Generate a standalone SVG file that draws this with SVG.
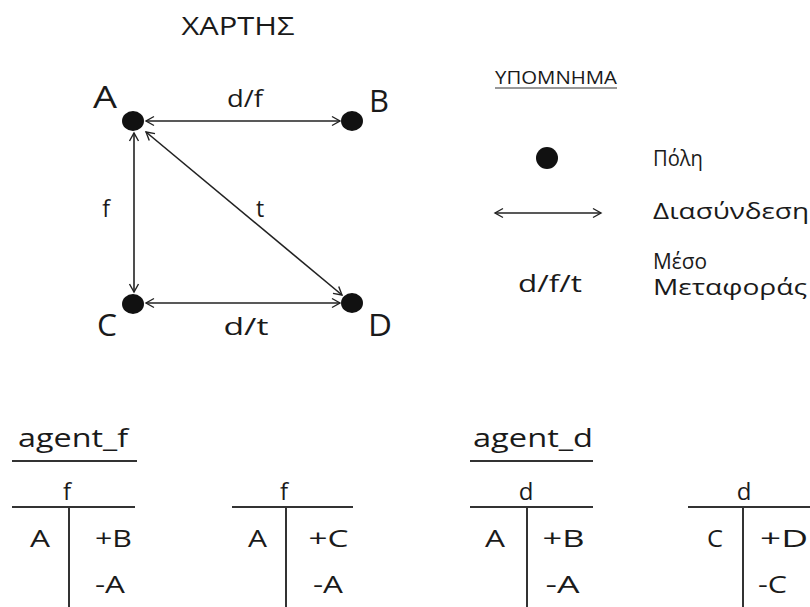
<svg xmlns="http://www.w3.org/2000/svg" width="810" height="607" viewBox="0 0 810 607">
<style>
  text { font-family: "Open Sans", "Noto Sans", "DejaVu Sans", sans-serif; fill: #1a1a1a; }
  .lbl { font-size: 31px; text-anchor: middle; }
  .edge { font-size: 23px; text-anchor: middle; }
  .leg { font-size: 21px; }
  .tt { font-size: 25px; text-anchor: middle; }
  .cell { font-size: 24px; text-anchor: middle; }
  .ln { stroke: #222; stroke-width: 1.6; fill: none; }
  .rule { stroke: #333; stroke-width: 2; fill: none; }
  .dot { fill: #111; }
</style>
<defs>
  <marker id="arr" viewBox="-10 -6 12 12" refX="0" refY="0" markerWidth="12" markerHeight="12" markerUnits="userSpaceOnUse" orient="auto-start-reverse">
    <path d="M-8,-4.5 L0,0 L-8,4.5" fill="none" stroke="#222" stroke-width="1.4"/>
  </marker>
</defs>
<rect width="810" height="607" fill="#ffffff"/>

<text id="title" x="238" y="35" font-size="25" text-anchor="middle" textLength="113" lengthAdjust="spacingAndGlyphs">ΧΑΡΤΗΣ</text>

<g id="connectors">
  <line class="ln" x1="146" y1="121" x2="340" y2="121" marker-start="url(#arr)" marker-end="url(#arr)"/>
  <line class="ln" x1="134" y1="133" x2="134" y2="292" marker-start="url(#arr)" marker-end="url(#arr)"/>
  <line class="ln" x1="146" y1="303" x2="340" y2="303" marker-start="url(#arr)" marker-end="url(#arr)"/>
  <line class="ln" x1="146" y1="132" x2="342" y2="295" marker-start="url(#arr)" marker-end="url(#arr)"/>
  <text class="edge" x="245" y="107" textLength="36" lengthAdjust="spacingAndGlyphs">d/f</text>
  <text class="edge" x="106" y="217">f</text>
  <text class="edge" x="260" y="217">t</text>
  <text class="edge" x="246" y="335" textLength="45" lengthAdjust="spacingAndGlyphs">d/t</text>
</g>

<g id="node-A">
  <ellipse class="dot" cx="133" cy="121" rx="11" ry="10"/>
  <text class="lbl" x="105" y="108" textLength="24" lengthAdjust="spacingAndGlyphs">A</text>
</g>
<g id="node-B">
  <ellipse class="dot" cx="352" cy="121" rx="11" ry="10"/>
  <text class="lbl" x="379" y="112" textLength="20" lengthAdjust="spacingAndGlyphs">B</text>
</g>
<g id="node-C">
  <ellipse class="dot" cx="133" cy="304" rx="11" ry="10"/>
  <text class="lbl" x="107" y="336" textLength="20" lengthAdjust="spacingAndGlyphs">C</text>
</g>
<g id="node-D">
  <ellipse class="dot" cx="352" cy="303" rx="11" ry="10"/>
  <text class="lbl" x="380" y="336" textLength="24" lengthAdjust="spacingAndGlyphs">D</text>
</g>

<g id="legend">
  <text x="495" y="84" font-size="18" textLength="122" lengthAdjust="spacingAndGlyphs">ΥΠΟΜΝΗΜΑ</text>
  <line x1="495" y1="88" x2="617" y2="88" stroke="#333" stroke-width="1.2"/>
  <circle class="dot" cx="547" cy="158" r="11"/>
  <text x="653" y="166" font-size="22" textLength="50" lengthAdjust="spacingAndGlyphs">Πόλη</text>
  <line class="ln" x1="495" y1="213" x2="601" y2="213" marker-start="url(#arr)" marker-end="url(#arr)"/>
  <text class="leg" x="653" y="219" textLength="156" lengthAdjust="spacingAndGlyphs">Διασύνδεση</text>
  <text x="550" y="292" font-size="23" text-anchor="middle" textLength="64" lengthAdjust="spacingAndGlyphs">d/f/t</text>
  <text x="653" y="269" font-size="22" textLength="54" lengthAdjust="spacingAndGlyphs">Μέσο</text>
  <text class="leg" x="653" y="295" textLength="154" lengthAdjust="spacingAndGlyphs">Μεταφοράς</text>
</g>

<g id="table-agent_f-1">
  <text class="tt" x="73" y="447" font-size="26" textLength="110" lengthAdjust="spacingAndGlyphs">agent_f</text>
  <line class="rule" x1="12" y1="461" x2="137" y2="461"/>
  <text class="cell" x="67" y="500">f</text>
  <line class="rule" x1="12" y1="507" x2="135" y2="507"/>
  <line class="rule" x1="69" y1="507" x2="69" y2="607"/>
  <text class="cell" x="40" y="547" textLength="20" lengthAdjust="spacingAndGlyphs">A</text>
  <text class="cell" x="113.5" y="547" textLength="37" lengthAdjust="spacingAndGlyphs">+B</text>
  <text class="cell" x="110" y="593" textLength="30" lengthAdjust="spacingAndGlyphs">-A</text>
</g>

<g id="table-agent_f-2">
  <text class="cell" x="284" y="500">f</text>
  <line class="rule" x1="232" y1="507" x2="353" y2="507"/>
  <line class="rule" x1="286" y1="507" x2="286" y2="607"/>
  <text class="cell" x="257.5" y="547" textLength="19" lengthAdjust="spacingAndGlyphs">A</text>
  <text class="cell" x="328.5" y="547" textLength="40" lengthAdjust="spacingAndGlyphs">+C</text>
  <text class="cell" x="328" y="593" textLength="30" lengthAdjust="spacingAndGlyphs">-A</text>
</g>

<g id="table-agent_d-1">
  <text class="tt" x="533" y="447" font-size="26" textLength="120" lengthAdjust="spacingAndGlyphs">agent_d</text>
  <line class="rule" x1="470" y1="461" x2="593" y2="461"/>
  <text class="cell" x="526" y="500">d</text>
  <line class="rule" x1="470" y1="507" x2="593" y2="507"/>
  <line class="rule" x1="527" y1="507" x2="527" y2="607"/>
  <text class="cell" x="495" y="547" textLength="20" lengthAdjust="spacingAndGlyphs">A</text>
  <text class="cell" x="563.5" y="547" textLength="42" lengthAdjust="spacingAndGlyphs">+B</text>
  <text class="cell" x="562.5" y="593" textLength="34" lengthAdjust="spacingAndGlyphs">-A</text>
</g>

<g id="table-agent_d-2">
  <text class="cell" x="744" y="500">d</text>
  <line class="rule" x1="688" y1="507" x2="810" y2="507"/>
  <line class="rule" x1="743" y1="507" x2="743" y2="607"/>
  <text class="cell" x="715" y="547" textLength="16" lengthAdjust="spacingAndGlyphs">C</text>
  <text class="cell" x="784" y="547" textLength="48" lengthAdjust="spacingAndGlyphs">+D</text>
  <text class="cell" x="772.5" y="593" textLength="29" lengthAdjust="spacingAndGlyphs">-C</text>
</g>
</svg>
